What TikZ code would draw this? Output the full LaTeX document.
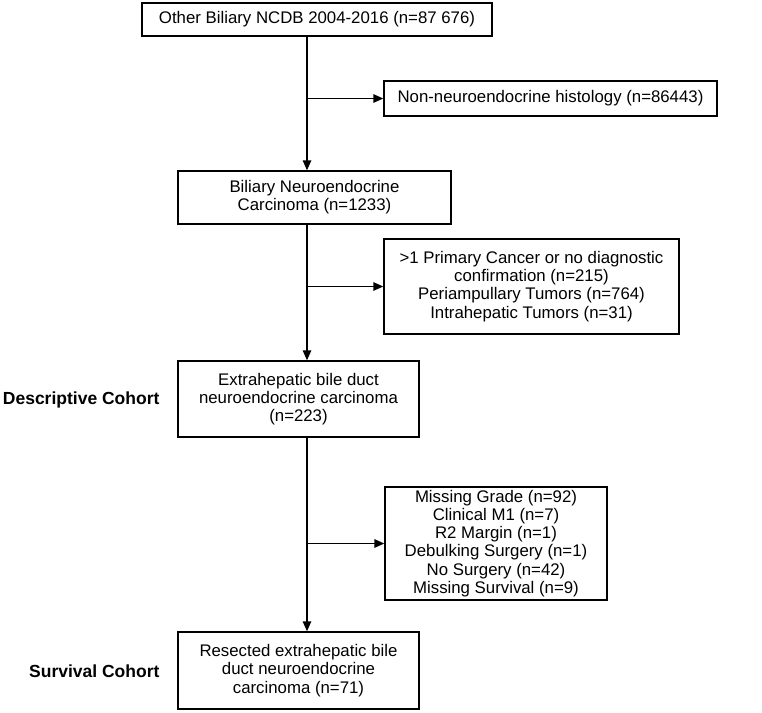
\documentclass[tikz,border=0pt]{standalone}
\usepackage{fontspec}
\setmainfont{Liberation Sans}
\usetikzlibrary{arrows.meta}
\begin{document}
\begin{tikzpicture}[x=1pt,y=-1pt,
  box/.style={draw, line width=1.4pt, rectangle, align=center, inner sep=2pt,
    font=\fontsize{16.8}{18.2}\selectfont},
  arr/.style={line width=1.4pt, -{Triangle[length=10pt,width=8.5pt]}},
  lab/.style={anchor=east, font=\fontsize{17.5}{19}\selectfont\bfseries}]
\useasboundingbox (0,0) rectangle (762,712);
\node[box, minimum width=350pt, minimum height=33pt] (top) at (317,19.5) {Other Biliary NCDB 2004-2016 (n=87 676)};
\node[box, minimum width=333pt, minimum height=35pt] (nh) at (550.5,98.5) {Non-neuroendocrine histology (n=86443)};
\node[box, minimum width=273pt, minimum height=53pt] (b2) at (314.5,197.5) {Biliary Neuroendocrine\\Carcinoma (n=1233)};
\node[box, minimum width=295pt, minimum height=95pt] (ex1) at (531.5,286.5) {>1 Primary Cancer or no diagnostic\\confirmation (n=215)\\Periampullary Tumors (n=764)\\Intrahepatic Tumors (n=31)};
\node[box, minimum width=241pt, minimum height=76pt] (b4) at (298.5,399) {Extrahepatic bile duct\\neuroendocrine carcinoma\\(n=223)};
\node[box, minimum width=222pt, minimum height=113pt] (ex2) at (496,543.5) {Missing Grade (n=92)\\Clinical M1 (n=7)\\R2 Margin (n=1)\\Debulking Surgery (n=1)\\No Surgery (n=42)\\Missing Survival (n=9)};
\node[box, minimum width=241pt, minimum height=77pt] (b6) at (298.5,670.5) {Resected extrahepatic bile\\duct neuroendocrine\\carcinoma (n=71)};
\node[lab] (dc) at (163,400) {Descriptive Cohort};
\node[lab] (sc) at (163,671) {Survival Cohort};
\coordinate (sp) at (307,0);
\draw[arr] (top.south -| sp) -- (b2.north -| sp);
\draw[arr] (b2.south -| sp) -- (b4.north -| sp);
\draw[arr] (b4.south -| sp) -- (b6.north -| sp);
\coordinate (j1) at (nh.west -| sp);
\coordinate (j2) at (ex1.west -| sp);
\coordinate (j3) at (ex2.west -| sp);
\draw[arr] (j1) -- (nh.west);
\draw[arr] (j2) -- (ex1.west);
\draw[arr] (j3) -- (ex2.west);
\end{tikzpicture}
\end{document}
